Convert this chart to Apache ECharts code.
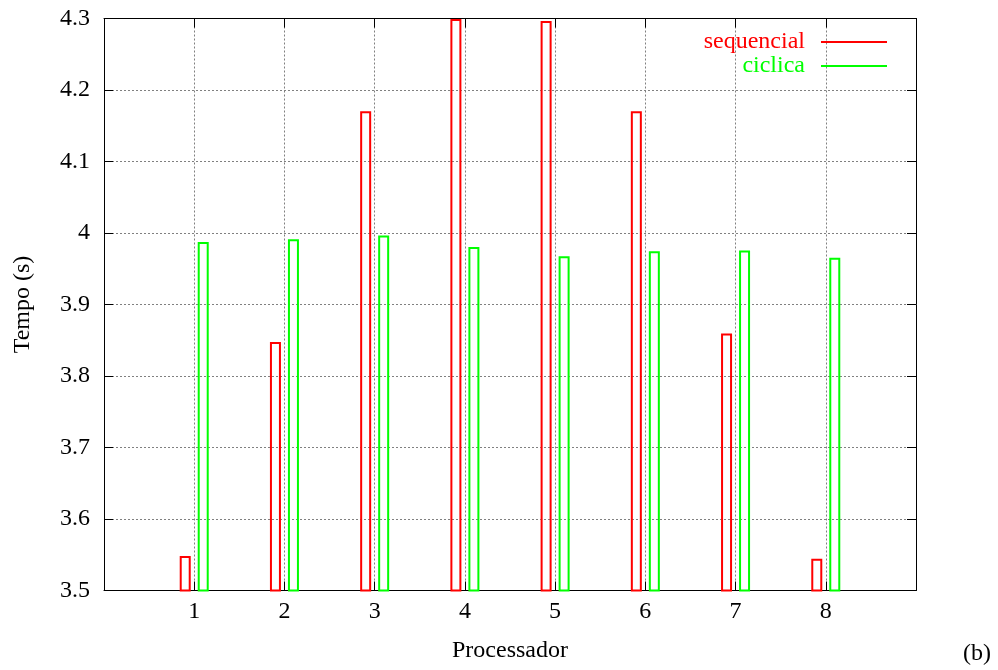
<!DOCTYPE html>
<html>
<head>
<meta charset="utf-8">
<script src="https://cdn.jsdelivr.net/npm/echarts@6/dist/echarts.min.js"></script>
<style>
  html, body { margin: 0; padding: 0; background: #fff; }
  #chart { width: 998px; height: 670px; }
</style>
</head>
<body>
<div id="chart"></div>
<script>
// Processor numbers along the x axis
const processors = [1, 2, 3, 4, 5, 6, 7, 8];
// Time per processor (s), sequential distribution
const sequencial = [3.547, 3.846, 4.169, 4.298, 4.295, 4.169, 3.858, 3.543];
// Time per processor (s), cyclic distribution
const ciclica = [3.986, 3.990, 3.995, 3.979, 3.966, 3.973, 3.974, 3.964];
// Axis ranges
const yMin = 3.5, yMax = 4.3, yStep = 0.1;
const xMin = 0, xMax = 9;

const FONT = 'Liberation Serif';
const FS = 24;
const RED = '#ff0000';
const GREEN = '#00ff00';

const chart = echarts.init(document.getElementById('chart'), null, { renderer: 'canvas' });

// Hollow bar drawn around a processor tick, shifted by a pixel offset
function hollowBar(offsetPx, widthPx, color) {
  return function (params, api) {
    const x = api.value(0);
    const v = api.value(1);
    const top = api.coord([x, v]);
    const base = api.coord([x, yMin]);
    return {
      type: 'rect',
      shape: {
        x: top[0] + offsetPx - widthPx / 2,
        y: top[1],
        width: widthPx,
        height: base[1] - top[1]
      },
      style: { fill: 'none', stroke: color, lineWidth: 2 }
    };
  };
}

const gridLine = { show: true, lineStyle: { color: '#808080', type: [2, 2], width: 1 } };

chart.setOption({
  animation: false,
  backgroundColor: '#fff',
  textStyle: { fontFamily: FONT },
  grid: { left: 104, right: 82, top: 18.5, bottom: 79.5, containLabel: false },
  legend: {
    orient: 'vertical',
    right: 106,
    top: 25,
    align: 'right',
    itemWidth: 66,
    itemHeight: 2,
    itemGap: 0,
    icon: 'rect',
    selectedMode: false,
    textStyle: { fontFamily: FONT, fontSize: FS, lineHeight: 24, padding: [0, 11, 0, 0] },
    data: [
      { name: 'sequencial', textStyle: { color: RED }, itemStyle: { color: RED } },
      { name: 'ciclica', textStyle: { color: GREEN }, itemStyle: { color: GREEN } }
    ]
  },
  xAxis: [
    {
      type: 'value', min: xMin, max: xMax, interval: 1,
      position: 'bottom',
      name: 'Processador', nameLocation: 'middle', nameGap: 48,
      nameTextStyle: { fontFamily: FONT, fontSize: FS, color: '#000' },
      axisLine: { show: true, onZero: false, lineStyle: { color: '#000', width: 1 } },
      axisTick: { show: true, inside: true, length: 9, lineStyle: { color: '#000' } },
      axisLabel: {
        fontFamily: FONT, fontSize: FS, color: '#000', margin: 9,
        formatter: v => (processors.indexOf(v) >= 0 ? String(v) : '')
      },
      splitLine: gridLine
    },
    {
      type: 'value', min: xMin, max: xMax, interval: 1,
      position: 'top',
      axisLine: { show: true, onZero: false, lineStyle: { color: '#000', width: 1 } },
      axisTick: { show: true, inside: true, length: 9, lineStyle: { color: '#000' } },
      axisLabel: { show: false },
      splitLine: { show: false }
    }
  ],
  yAxis: [
    {
      type: 'value', min: yMin, max: yMax, interval: yStep,
      position: 'left',
      name: 'Tempo (s)', nameLocation: 'middle', nameGap: 69, nameRotate: 90,
      nameTextStyle: { fontFamily: FONT, fontSize: FS, color: '#000' },
      axisLine: { show: true, onZero: false, lineStyle: { color: '#000', width: 1 } },
      axisTick: { show: true, inside: true, length: 9, lineStyle: { color: '#000' } },
      axisLabel: {
        fontFamily: FONT, fontSize: FS, color: '#000', margin: 14,
        formatter: v => String(Math.round(v * 10) / 10)
      },
      splitLine: gridLine
    },
    {
      type: 'value', min: yMin, max: yMax, interval: yStep,
      position: 'right',
      axisLine: { show: true, onZero: false, lineStyle: { color: '#000', width: 1 } },
      axisTick: { show: true, inside: true, length: 9, lineStyle: { color: '#000' } },
      axisLabel: { show: false },
      splitLine: { show: false }
    }
  ],
  series: [
    {
      name: 'sequencial',
      type: 'custom',
      xAxisIndex: 0, yAxisIndex: 0,
      itemStyle: { color: RED },
      renderItem: hollowBar(-9, 9, RED),
      data: processors.map((p, i) => [p, sequencial[i]]),
      z: 5
    },
    {
      name: 'ciclica',
      type: 'custom',
      xAxisIndex: 0, yAxisIndex: 0,
      itemStyle: { color: GREEN },
      renderItem: hollowBar(9, 9, GREEN),
      data: processors.map((p, i) => [p, ciclica[i]]),
      z: 5
    }
  ],
  graphic: [
    {
      type: 'text', left: 963, top: 642,
      style: { text: '(b)', font: '24px "Liberation Serif"', fill: '#000' }
    }
  ]
});
</script>
</body>
</html>
